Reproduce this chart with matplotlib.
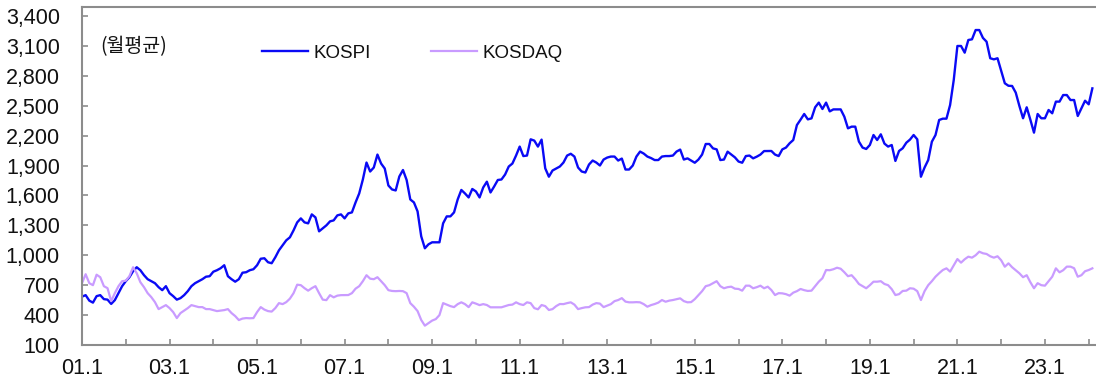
import numpy as np
import matplotlib
matplotlib.use("Agg")
import matplotlib.pyplot as plt

# Monthly averages, Jan 2001 .. Feb 2024
kospi = [
    585, 600, 545, 525, 590, 600, 560, 555, 512, 550, 620, 690,          # 2001
    740, 780, 840, 880, 850, 800, 760, 740, 720, 680, 650, 690,          # 2002
    620, 590, 555, 570, 600, 640, 690, 720, 740, 760, 785, 790,          # 2003
    835, 850, 870, 900, 790, 760, 735, 760, 825, 830, 850, 860,          # 2004
    900, 965, 970, 930, 920, 980, 1050, 1100, 1150, 1180, 1250, 1330,    # 2005
    1370, 1330, 1320, 1410, 1380, 1240, 1270, 1300, 1340, 1350, 1400, 1410,  # 2006
    1370, 1420, 1430, 1530, 1620, 1760, 1930, 1840, 1880, 2010, 1920, 1870,  # 2007
    1700, 1660, 1650, 1790, 1855, 1755, 1560, 1530, 1440, 1190, 1070, 1110,  # 2008
    1130, 1130, 1130, 1320, 1390, 1390, 1430, 1560, 1655, 1620, 1580, 1665,  # 2009
    1640, 1580, 1680, 1738, 1630, 1690, 1755, 1760, 1810, 1890, 1920, 2000,  # 2010
    2090, 1995, 2000, 2163, 2150, 2090, 2160, 1872, 1788, 1850, 1870, 1890,  # 2011
    1930, 2000, 2018, 1990, 1880, 1840, 1830, 1910, 1950, 1930, 1900, 1960,  # 2012
    1980, 1990, 1990, 1950, 1970, 1860, 1860, 1900, 1990, 2040, 2020, 1990,  # 2013
    1975, 1955, 1955, 1990, 1995, 1995, 2000, 2040, 2060, 1960, 1972, 1950,  # 2014
    1928, 1960, 2010, 2116, 2116, 2072, 2062, 1955, 1960, 2039, 2010, 1982,  # 2015
    1940, 1928, 1995, 2000, 1972, 1989, 2010, 2045, 2046, 2046, 2010, 1995,  # 2016
    2062, 2080, 2123, 2156, 2306, 2360, 2417, 2363, 2373, 2484, 2531, 2467,  # 2017
    2531, 2443, 2463, 2463, 2463, 2390, 2273, 2290, 2290, 2140, 2080, 2066,  # 2018
    2106, 2206, 2156, 2213, 2120, 2090, 2106, 1946, 2046, 2073, 2129, 2160,  # 2019
    2206, 2163, 1788, 1880, 1955, 2139, 2206, 2357, 2370, 2370, 2507, 2758,  # 2020
    3099, 3099, 3032, 3159, 3166, 3259, 3259, 3180, 3142, 2976, 2965, 2976,  # 2021
    2850, 2725, 2700, 2698, 2631, 2497, 2374, 2484, 2360, 2230, 2417, 2374,  # 2022
    2374, 2457, 2424, 2541, 2541, 2607, 2607, 2557, 2557, 2397, 2474, 2550,  # 2023
    2514, 2674,                                                           # 2024
]

kosdaq = [
    720, 810, 720, 700, 805, 780, 690, 670, 540, 620, 690, 740,          # 2001
    745, 790, 880, 820, 730, 680, 620, 580, 530, 460, 480, 500,          # 2002
    470, 430, 370, 420, 445, 470, 500, 490, 480, 480, 460, 460,          # 2003
    450, 440, 445, 450, 460, 420, 390, 350, 365, 370, 368, 370,          # 2004
    430, 480, 455, 440, 435, 470, 520, 510, 530, 565, 620, 705,          # 2005
    700, 670, 645, 670, 690, 620, 555, 550, 600, 578, 595, 600,          # 2006
    600, 601, 620, 665, 690, 740, 800, 765, 760, 780, 740, 700,          # 2007
    650, 642, 640, 642, 640, 620, 520, 484, 440, 351, 294, 320,          # 2008
    345, 360, 400, 520, 505, 490, 480, 510, 528, 510, 480, 528,          # 2009
    515, 500, 510, 501, 478, 478, 478, 478, 490, 501, 505, 528,          # 2010
    510, 501, 528, 520, 470, 458, 501, 490, 451, 460, 490, 511,          # 2011
    510, 520, 528, 505, 460, 470, 478, 480, 505, 520, 515, 480,          # 2012
    495, 510, 540, 551, 570, 535, 528, 528, 530, 528, 510, 484,          # 2013
    500, 511, 525, 551, 534, 545, 551, 560, 568, 540, 528, 530,          # 2014
    560, 600, 640, 690, 700, 720, 740, 690, 669, 680, 685, 665,          # 2015
    662, 645, 695, 695, 669, 680, 695, 669, 685, 651, 601, 620,          # 2016
    618, 610, 595, 625, 640, 662, 650, 642, 645, 690, 735, 770,          # 2017
    852, 850, 860, 875, 865, 830, 790, 800, 760, 712, 690, 669,          # 2018
    700, 735, 735, 740, 712, 700, 660, 601, 610, 642, 645, 669,          # 2019
    665, 640, 551, 640, 700, 740, 785, 820, 852, 869, 836, 900,          # 2020
    962, 926, 960, 986, 976, 1000, 1036, 1020, 1013, 990, 976, 990,      # 2021
    950, 885, 919, 880, 850, 819, 780, 800, 730, 669, 720, 700,          # 2022
    695, 740, 785, 869, 829, 850, 886, 886, 870, 785, 800, 840,          # 2023
    852, 869,                                                             # 2024
]

series_names = ["KOSPI", "KOSDAQ"]
year_tick_labels = ["01.1", "", "03.1", "", "05.1", "", "07.1", "", "09.1", "",
                    "11.1", "", "13.1", "", "15.1", "", "17.1", "", "19.1", "",
                    "21.1", "", "23.1", ""]
y_ticks = [100, 400, 700, 1000, 1300, 1600, 1900, 2200, 2500, 2800, 3100, 3400]
unit_label = "(월평균)"

plt.rcParams['font.family'] = ['Liberation Sans', 'DejaVu Sans']

W, H = 1096, 389
fig = plt.figure(figsize=(W / 100, H / 100), dpi=100)
left_px, right_px, top_px, bottom_px = 82, 1096, 7, 345
ax = fig.add_axes([left_px / W, 1 - bottom_px / H,
                   (right_px - left_px) / W, (bottom_px - top_px) / H])

x = np.arange(len(kospi))
ax.plot(x, kospi, color="#0A0AF5", lw=1.7, label=series_names[0], solid_joinstyle="round")
ax.plot(x, kosdaq, color="#C99BFF", lw=1.6, label=series_names[1], solid_joinstyle="round")

ax.set_xlim(0, 278)
ax.set_ylim(100, 3490)

ax.set_xticks(np.arange(0, 12 * len(year_tick_labels), 12))
ax.set_xticklabels(year_tick_labels)
ax.set_yticks(y_ticks)
ax.set_yticklabels([f"{v:,}" for v in y_ticks])

gray = "#8C8C8C"
for side in ["left", "bottom", "top"]:
    ax.spines[side].set_color(gray)
    ax.spines[side].set_linewidth(1.5)
ax.spines["right"].set_visible(False)

ax.tick_params(axis="x", direction="in", length=4.5, width=1.2, color=gray,
               labelsize=15.5, pad=9, labelcolor="#111111")
ax.tick_params(axis="y", direction="in", length=4.5, width=1.2, color=gray,
               labelsize=15.5, pad=16, labelcolor="#111111")

ax.text((100 - left_px) / (right_px - left_px), (bottom_px - 47) / (bottom_px - top_px),
        unit_label, transform=ax.transAxes, ha="left", va="center",
        fontsize=14, family=["Noto Sans CJK KR", "DejaVu Sans"], color="#111111")

leg = ax.legend(loc="center left",
                bbox_to_anchor=((262 - left_px) / (right_px - left_px),
                                (bottom_px - 53) / (bottom_px - top_px)),
                ncol=2, frameon=False, fontsize=13.5, handlelength=2.45,
                handletextpad=0.3, columnspacing=3.2, borderpad=0, borderaxespad=0)
for t in leg.get_texts():
    t.set_color("#111111")

fig.savefig("out.png", dpi=100)
